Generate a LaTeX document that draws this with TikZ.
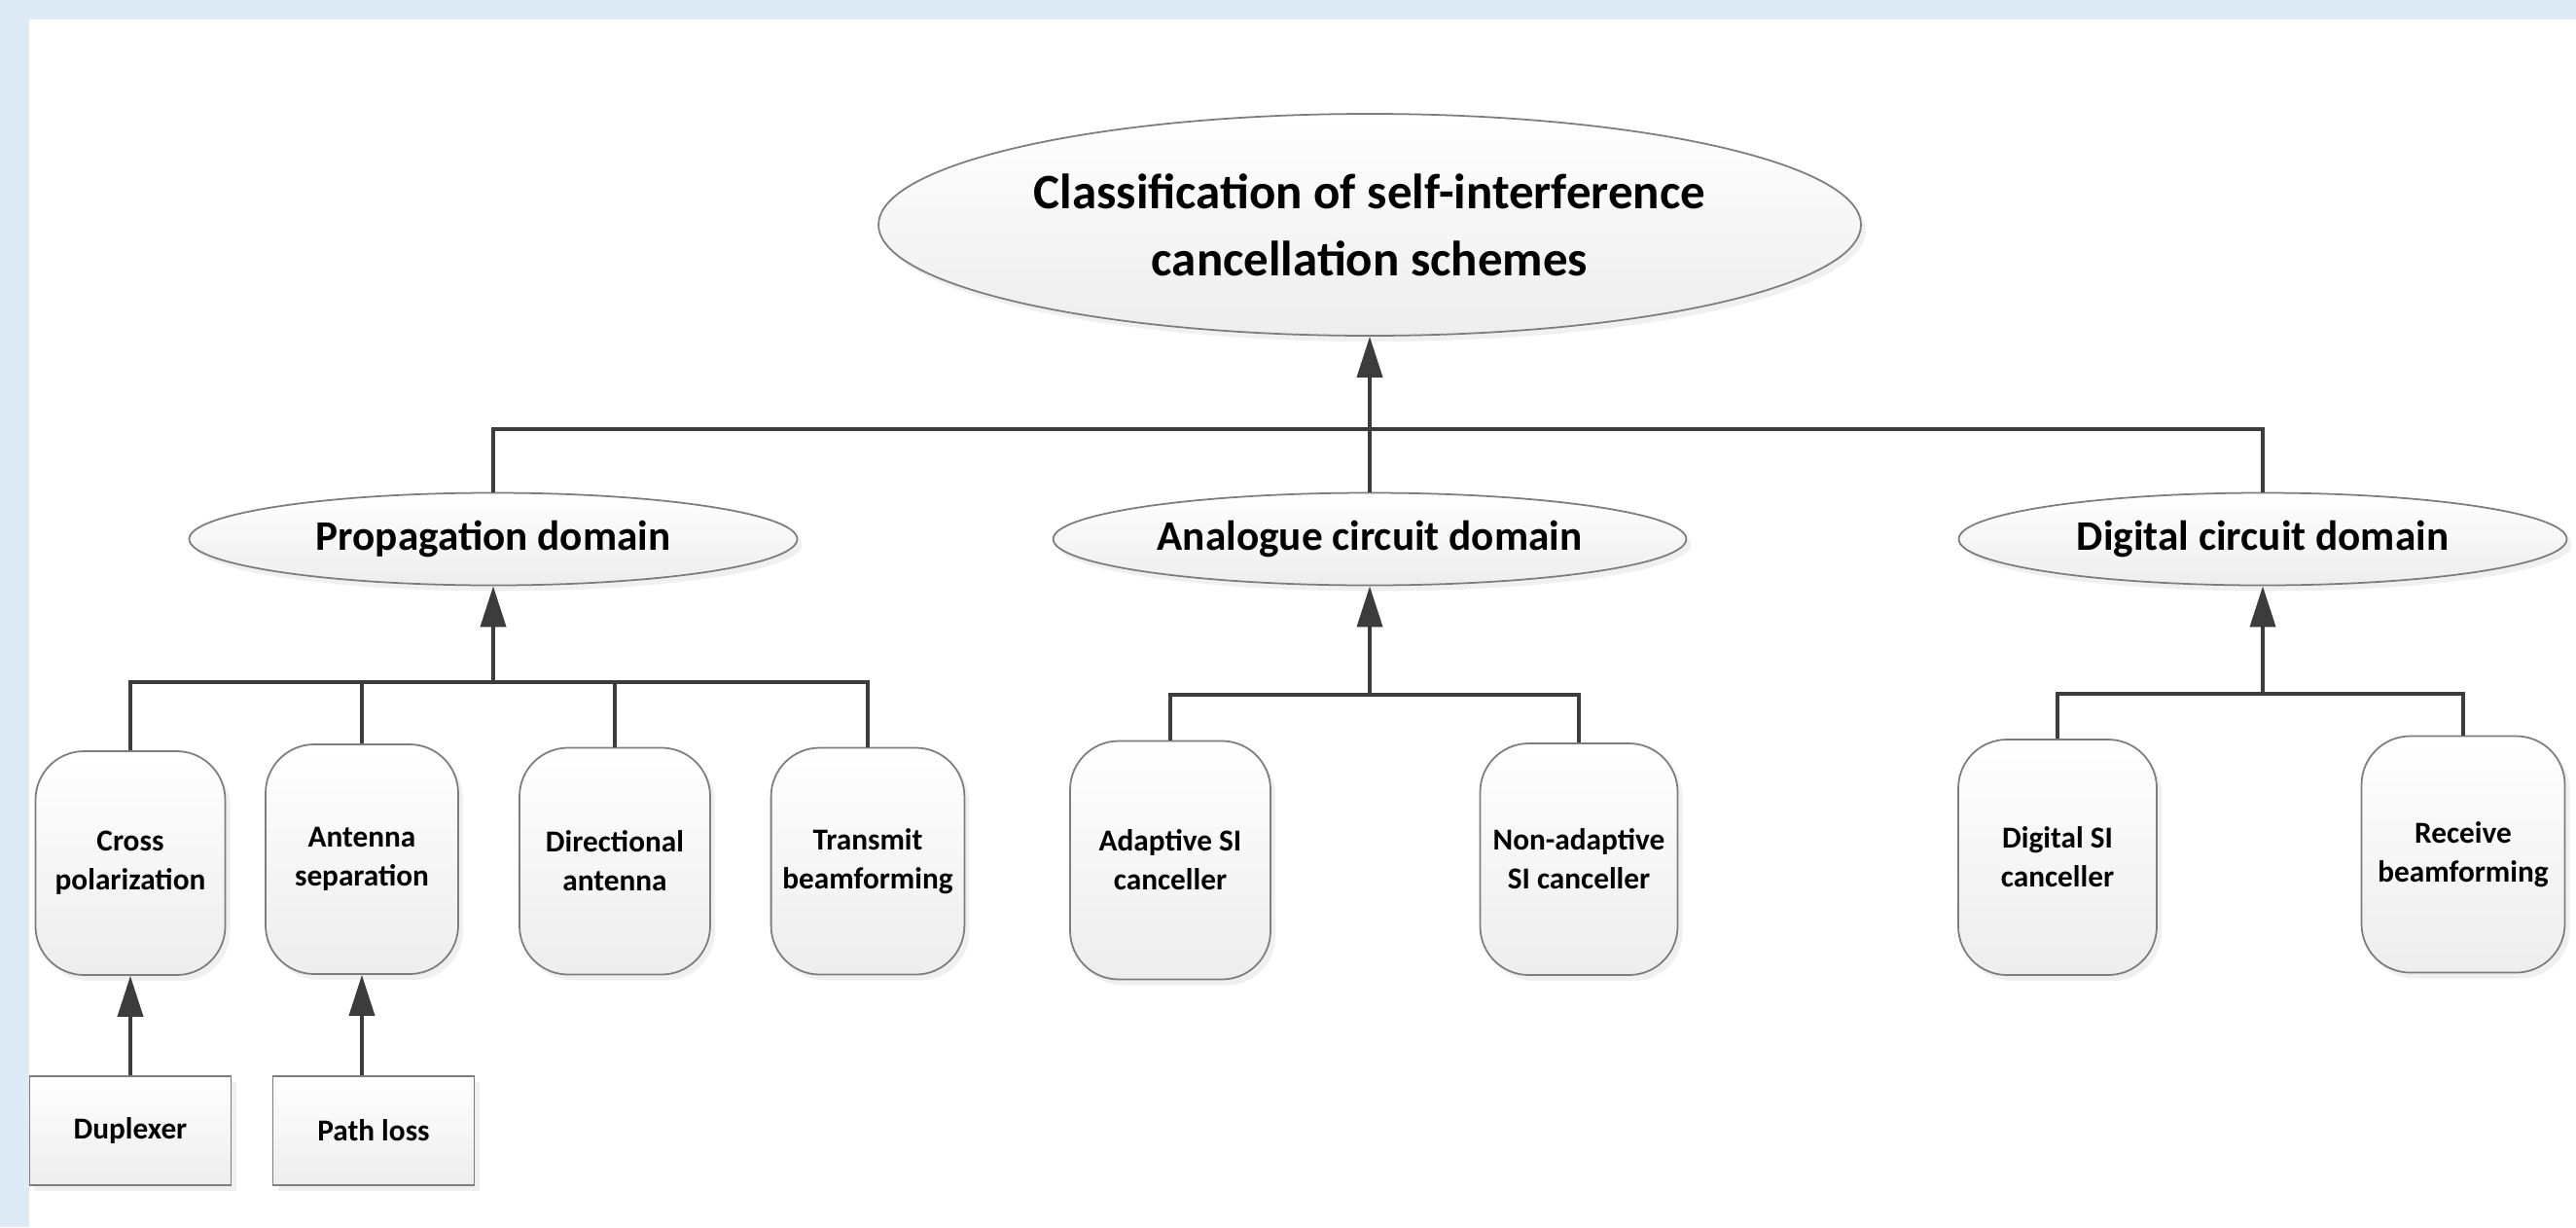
\documentclass[tikz,border=0pt]{standalone}
\usepackage{fontspec}
\setmainfont{Carlito}
\usepackage{tikz}
\usetikzlibrary{positioning,shapes.geometric,arrows.meta,shadows}
\definecolor{FrameBlue}{RGB}{222,234,246}
\definecolor{LineGray}{RGB}{60,60,60}
\definecolor{EdgeGray}{RGB}{125,125,125}
\tikzset{
    shadebox/.style={draw=EdgeGray, line width=0.5pt, top color=white, bottom color=gray!14,
        drop shadow={opacity=0.12, shadow xshift=0.5mm, shadow yshift=-0.6mm}},
    link/.style={draw=LineGray, line width=1.1pt},
    uplink/.style={link, -{Triangle[length=4.2mm, width=2.6mm]}}
}

\begin{document}
\begin{tikzpicture}[
        % Style nodes: ellipse for the classes, rounded boxes for the schemes
        rootnode/.style={
            shadebox,
            ellipse,
            minimum width=8.65cm,
            minimum height=2.28cm,
            align=center,
            font=\fontsize{14.5}{19.7}\selectfont\bfseries
        },
        domainnode/.style={
            shadebox,
            ellipse,
            minimum width=6.25cm,
            minimum height=0.95cm,
            font=\fontsize{12.3}{14}\selectfont\bfseries
        },
        leafnode/.style={
            shadebox,
            rectangle,
            rounded corners=0.5cm,
            minimum width=2cm,
            minimum height=2.38cm,
            align=center,
            font=\fontsize{8.9}{11.4}\selectfont\bfseries
        },
        basenode/.style={
            shadebox,
            rectangle,
            minimum width=2.07cm,
            minimum height=1.12cm,
            font=\fontsize{8.9}{11.4}\selectfont\bfseries
        }
    ]
    \useasboundingbox (0,0) rectangle (26.48,-12.61);
    % frame
    \fill[FrameBlue] (0,0) rectangle (26.48,-0.20);
    \fill[FrameBlue] (0,-0.20) rectangle (0.30,-12.61);

    % Root and the three domains
    \node[rootnode] (root) at (14.08,-2.31) {Classification of self-interference\\cancellation schemes};
    \node[domainnode] (prop) at (5.07,-5.54) {Propagation domain};
    \node[domainnode] (analog) at (14.08,-5.54) {Analogue circuit domain};
    \node[domainnode] (digital) at (23.26,-5.54) {Digital circuit domain};

    % Schemes
    \node[leafnode, minimum width=1.95cm, minimum height=2.3cm] (cross) at (1.34,-8.87) {Cross\\polarization};
    \node[leafnode, minimum width=1.98cm, minimum height=2.36cm] (antsep) at (3.72,-8.83) {Antenna\\separation};
    \node[leafnode, minimum width=1.96cm, minimum height=2.33cm] (direct) at (6.32,-8.85) {Directional\\antenna};
    \node[leafnode, minimum width=1.96cm, minimum height=2.33cm] (txbeam) at (8.92,-8.85) {Transmit\\beamforming};
    \node[leafnode, minimum width=2.06cm, minimum height=2.45cm] (adapt) at (12.03,-8.84) {Adaptive SI\\canceller};
    \node[leafnode, minimum width=2.03cm] (nonadapt) at (16.23,-8.83) {Non-adaptive\\SI canceller};
    \node[leafnode, minimum width=2.04cm, minimum height=2.42cm] (digsi) at (21.15,-8.81) {Digital SI\\canceller};
    \node[leafnode, minimum width=2.09cm, minimum height=2.43cm] (rxbeam) at (25.32,-8.78) {Receive\\beamforming};

    % Causes below
    \node[basenode] (duplex) at (1.34,-11.62) {Duplexer};
    \node[basenode] (pathloss) at (3.84,-11.62) {Path loss};

    % Junctions of the bars
    \coordinate (rootj) at (14.08,-4.41);
    \coordinate (propj) at (5.07,-7.01);
    \coordinate (analogj) at (14.08,-7.14);
    \coordinate (digitalj) at (23.26,-7.13);

    % Connectors
    \draw[uplink] (rootj) -- (root.south);
    \foreach \n in {prop,analog,digital}
        \draw[link] (\n.north) |- (rootj);

    \draw[uplink] (propj) -- (prop.south);
    \foreach \n in {cross,antsep,direct,txbeam}
        \draw[link] (\n.north) |- (propj);

    \draw[uplink] (analogj) -- (analog.south);
    \foreach \n in {adapt,nonadapt}
        \draw[link] (\n.north) |- (analogj);

    \draw[uplink] (digitalj) -- (digital.south);
    \foreach \n in {digsi,rxbeam}
        \draw[link] (\n.north) |- (digitalj);

    \draw[uplink] (duplex.north) -- (cross.south);
    \draw[uplink] (antsep.south |- pathloss.north) -- (antsep.south);
\end{tikzpicture}
\end{document}
